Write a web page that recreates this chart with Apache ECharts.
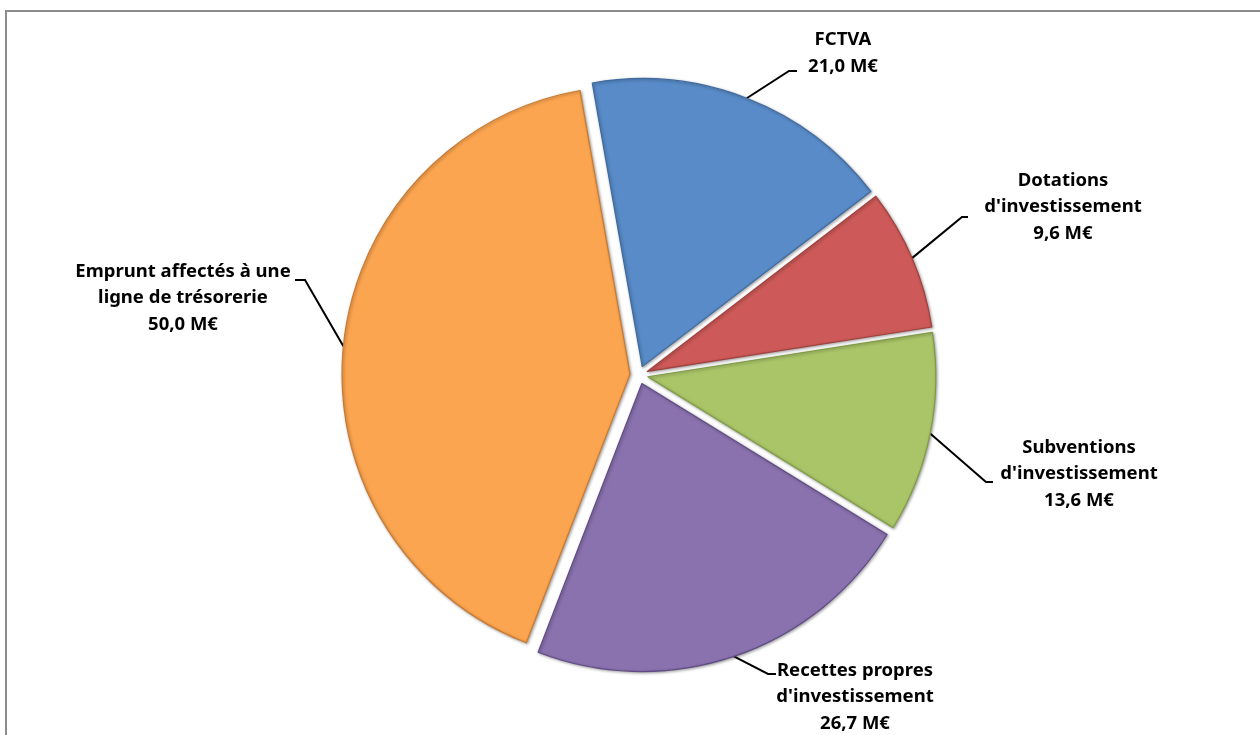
<!DOCTYPE html>
<html><head><meta charset="utf-8">
<script src="https://cdn.jsdelivr.net/npm/echarts@6/dist/echarts.min.js"></script>
<style>html,body{margin:0;padding:0;background:#fff}#c{width:1260px;height:735px}</style>
</head><body><div id="c"></div>
<script>
// ---- data ----
const categories = ['FCTVA', "Dotations d'investissement", "Subventions d'investissement", "Recettes propres d'investissement", "Emprunt affectés à une ligne de trésorerie"];
const labelText = [['FCTVA'], ['Dotations', "d'investissement"], ['Subventions', "d'investissement"], ['Recettes propres', "d'investissement"], ['Emprunt affectés à une', 'ligne de trésorerie']];
const values = [21.0, 9.6, 13.6, 26.7, 50.0];
const unit = 'M€';

// ---- style / layout ----
const colors = ['#588BC8', '#CD5A58', '#AAC568', '#8A72AE', '#FCA550'];
const borders = ['#3F6A9E', '#A2403E', '#7F9C45', '#614C87', '#C97A30'];
const CX = 639, CY = 375, R = 288, EXPLODE = 9, START = 100;
const labelPos = [[843, 53], [1063, 207], [1079, 474], [855, 697], [183, 298]];
const elbows = [
  [[789, 71], [797, 71]],
  [[962, 217], [968, 217]],
  [[986, 482], [993, 482]],
  [[768, 674], [776, 674]],
  [[305, 280], [295, 280]]
];

const total = values.reduce((a, b) => a + b, 0);
const mids = [];
let cum = 0;
values.forEach(v => { mids.push((START - (cum + v / 2) / total * 360) * Math.PI / 180); cum += v; });

const series = values.map((_, i) => {
  const th = mids[i];
  const cx = CX + EXPLODE * Math.cos(th), cy = CY - EXPLODE * Math.sin(th);
  const start = [cx + R * Math.cos(th), cy - R * Math.sin(th)];
  return {
    type: 'pie',
    center: [cx, cy],
    radius: [0, R],
    startAngle: START,
    clockwise: true,
    silent: true,
    animation: false,
    avoidLabelOverlap: false,
    label: {
      position: 'outside',
      fontFamily: 'Noto Sans', fontWeight: 'bold', fontSize: 18.5, lineHeight: 26.5,
      color: '#000', align: 'center',
      formatter: p => labelText[p.dataIndex].join('\n') + '\n' + p.value.toFixed(1).replace('.', ',') + ' ' + unit
    },
    labelLine: { show: true, lineStyle: { color: '#000', width: 2 } },
    labelLayout: p => {
      if (p.dataIndex !== i) return {};
      return { x: labelPos[i][0], y: labelPos[i][1], align: 'center', verticalAlign: 'middle',
               labelLinePoints: [start].concat(elbows[i]) };
    },
    data: values.map((v, j) => ({
      name: categories[j], value: v,
      itemStyle: j === i
        ? { color: colors[j], borderColor: borders[j], borderWidth: 1.2, shadowBlur: 3, shadowColor: 'rgba(0,0,0,0.35)', shadowOffsetX: 1, shadowOffsetY: 1 }
        : { color: 'rgba(0,0,0,0)', borderWidth: 0 },
      label: { show: j === i },
      labelLine: { show: j === i }
    }))
  };
});

const chart = echarts.init(document.getElementById('c'), null, { renderer: 'canvas' });
chart.setOption({
  backgroundColor: '#fff',
  animation: false,
  graphic: [{
    type: 'rect', z: -10, silent: true,
    shape: { x: 6, y: 11, width: 1300, height: 800 },
    style: { fill: 'none', stroke: '#8c8c8c', lineWidth: 2 }
  }],
  series: series
});
</script></body></html>
